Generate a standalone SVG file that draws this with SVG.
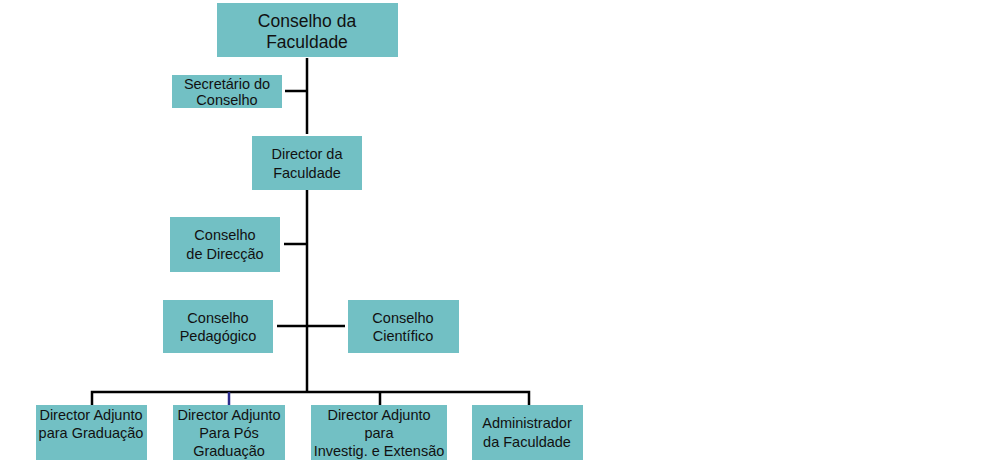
<svg xmlns="http://www.w3.org/2000/svg" width="1005" height="463" viewBox="0 0 1005 463">
<style>
.box{fill:#72C0C4;}
.t{font-family:"Liberation Sans",Arial,sans-serif;font-size:14.5px;fill:#111;text-anchor:middle;}
.tb{font-size:17.5px;}
.ln{stroke:#000;stroke-width:2.5;fill:none;}
</style>
<rect width="1005" height="463" fill="#fff"/>
<g id="connectors">
<path class="ln" d="M307,58 V134 M285,91 H307"/>
<path class="ln" d="M307,190 V392 M284,244 H307 M277,326 H345"/>
<path class="ln" d="M92,405 V392 H529 V405 M380,392 V405"/>
<path d="M229,392 V405" stroke="#2B2B8C" stroke-width="2.5"/>
</g>
<g id="conselho-faculdade"><rect class="box" x="217" y="3" width="181" height="54"/><text class="t tb" x="307" y="27">Conselho da</text><text class="t tb" x="307" y="48">Faculdade</text></g>
<g id="secretario"><rect class="box" x="172" y="75" width="110" height="33"/><text class="t" x="227" y="89">Secretário do</text><text class="t" x="227" y="105">Conselho</text></g>
<g id="director"><rect class="box" x="252" y="136" width="110" height="54"/><text class="t" x="307" y="159">Director da</text><text class="t" x="307" y="178">Faculdade</text></g>
<g id="conselho-direccao"><rect class="box" x="170" y="217" width="110" height="55"/><text class="t" x="225" y="240">Conselho</text><text class="t" x="225" y="259">de Direcção</text></g>
<g id="conselho-pedagogico"><rect class="box" x="163" y="300" width="110" height="53"/><text class="t" x="218" y="323">Conselho</text><text class="t" x="218" y="341">Pedagógico</text></g>
<g id="conselho-cientifico"><rect class="box" x="348" y="300" width="111" height="53"/><text class="t" x="403" y="323">Conselho</text><text class="t" x="403" y="341">Científico</text></g>
<g id="dir-graduacao"><rect class="box" x="36" y="405" width="111" height="55"/><text class="t" x="91" y="420">Director Adjunto</text><text class="t" x="91" y="438">para Graduação</text></g>
<g id="dir-pos"><rect class="box" x="173" y="405" width="112" height="55"/><text class="t" x="229" y="420">Director Adjunto</text><text class="t" x="229" y="438">Para Pós</text><text class="t" x="229" y="456">Graduação</text></g>
<g id="dir-investig"><rect class="box" x="311" y="405" width="136" height="55"/><text class="t" x="379" y="420">Director Adjunto</text><text class="t" x="379" y="438">para</text><text class="t" x="379" y="456">Investig. e Extensão</text></g>
<g id="administrador"><rect class="box" x="472" y="405" width="111" height="55"/><text class="t" x="527" y="428">Administrador</text><text class="t" x="527" y="447">da Faculdade</text></g>
</svg>
